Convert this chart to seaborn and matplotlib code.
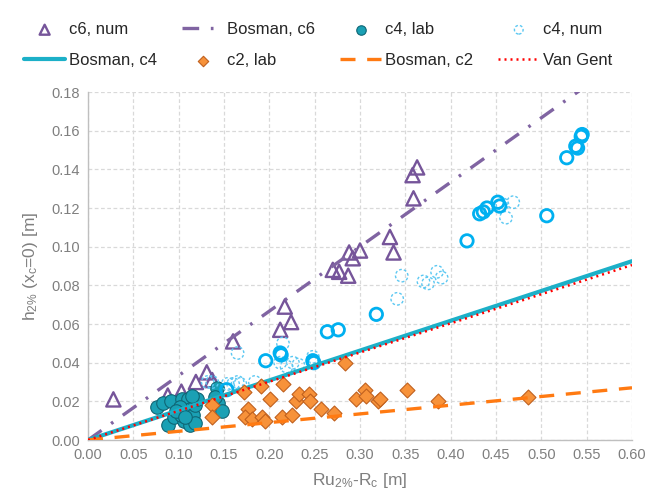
import numpy as np
import pandas as pd
import matplotlib
matplotlib.use("Agg")
import matplotlib.pyplot as plt
import seaborn as sns

# --- measured data -------------------------------------------------------
c6_num_x = [0.028, 0.088, 0.103, 0.119, 0.131, 0.137, 0.160, 0.212, 0.217, 0.224,
            0.270, 0.277, 0.287, 0.288, 0.292, 0.300, 0.333, 0.337, 0.358, 0.359, 0.363]
c6_num_y = [0.021, 0.023, 0.025, 0.030, 0.035, 0.031, 0.051, 0.057, 0.069, 0.061,
            0.088, 0.087, 0.085, 0.097, 0.094, 0.098, 0.105, 0.097, 0.137, 0.125, 0.141]

c4_lab_x = [0.076, 0.083, 0.092, 0.104, 0.088, 0.095, 0.106, 0.110, 0.113, 0.116,
            0.118, 0.112, 0.118, 0.103, 0.101, 0.097, 0.142, 0.143, 0.148, 0.140,
            0.120, 0.115, 0.107]
c4_lab_y = [0.017, 0.019, 0.020, 0.021, 0.008, 0.012, 0.010, 0.021, 0.016, 0.013,
            0.018, 0.008, 0.009, 0.013, 0.017, 0.015, 0.027, 0.019, 0.015, 0.022,
            0.021, 0.023, 0.012]

# c4 numerical runs (dashed outline in the legend)
c4_num_x = [0.132, 0.137, 0.154, 0.160, 0.165, 0.168, 0.184, 0.165, 0.215, 0.212,
            0.219, 0.226, 0.232, 0.248, 0.341, 0.346, 0.370, 0.375, 0.385, 0.390,
            0.457, 0.461, 0.469]
c4_num_y = [0.030, 0.030, 0.029, 0.029, 0.030, 0.029, 0.030, 0.045, 0.050, 0.040,
            0.038, 0.040, 0.039, 0.043, 0.073, 0.085, 0.082, 0.081, 0.087, 0.084,
            0.122, 0.115, 0.123]

# c4 numerical runs, second set (solid outline)
c4_num2_x = [0.153, 0.196, 0.212, 0.213, 0.248, 0.249, 0.264, 0.276, 0.318, 0.418,
             0.432, 0.436, 0.440, 0.452, 0.454, 0.506, 0.528, 0.538, 0.540, 0.544, 0.545]
c4_num2_y = [0.026, 0.041, 0.045, 0.044, 0.041, 0.040, 0.056, 0.057, 0.065, 0.103,
             0.117, 0.118, 0.120, 0.123, 0.121, 0.116, 0.146, 0.152, 0.151, 0.157, 0.158]

c2_lab_x = [0.137, 0.137, 0.172, 0.177, 0.173, 0.181, 0.191, 0.192, 0.195, 0.201,
            0.215, 0.214, 0.225, 0.229, 0.233, 0.244, 0.245, 0.257, 0.271, 0.283,
            0.296, 0.305, 0.307, 0.320, 0.322, 0.352, 0.386, 0.485]
c2_lab_y = [0.018, 0.012, 0.025, 0.016, 0.012, 0.011, 0.028, 0.012, 0.010, 0.021,
            0.029, 0.012, 0.013, 0.020, 0.024, 0.024, 0.020, 0.016, 0.014, 0.040,
            0.021, 0.026, 0.023, 0.020, 0.021, 0.026, 0.020, 0.022]

# design lines, evaluated at the ends of the x range
line_x = [0.0, 0.60]
bosman_c6 = [0.0, 0.200]
bosman_c4 = [0.0, 0.0925]
bosman_c2 = [0.0, 0.027]
van_gent = [0.0, 0.0905]

x_ticks = [round(0.05 * i, 2) for i in range(13)]
y_ticks = [round(0.02 * i, 2) for i in range(10)]

# --- style ---------------------------------------------------------------
sns.set_theme(style="white")
plt.rcParams["font.family"] = ["Liberation Sans", "DejaVu Sans"]
plt.rcParams["mathtext.fontset"] = "custom"
plt.rcParams["mathtext.rm"] = "Liberation Sans"
plt.rcParams["mathtext.it"] = "Liberation Sans"
plt.rcParams["mathtext.default"] = "regular"

grey_txt = "#7F7F7F"
purple = "#76559A"
purple_line = "#8064A2"
teal = "#1AA0B4"
teal_edge = "#0F6675"
sky = "#00B0F0"
sky_light = "#5CC8F2"
orange = "#F7923A"
orange_edge = "#C0601E"
cyan_line = "#1CB0C8"
orange_line = "#FF7A12"

fig = plt.figure(figsize=(6.46, 4.92), dpi=100)
ax = fig.add_axes([88 / 646, 1 - 440 / 492, 544 / 646, 348 / 492])

z = 3
sns.scatterplot(x=c6_num_x, y=c6_num_y, marker="^", s=105, facecolors="none",
                edgecolor=purple, linewidth=1.7, ax=ax, label="c6, num", zorder=z)
sns.lineplot(x=line_x, y=bosman_c6, ax=ax, color=purple_line, lw=2.4,
             label="Bosman, c6", zorder=z + 1)
ax.lines[-1].set_linestyle((0, (5, 3.5, 0.8, 3.5)))
sns.scatterplot(x=c4_lab_x, y=c4_lab_y, marker="o", s=95, color=teal,
                edgecolor=teal_edge, linewidth=0.8, ax=ax, label="c4, lab", zorder=z + 2)
sns.scatterplot(x=c4_num_x, y=c4_num_y, marker="o", s=80, facecolors="none",
                edgecolor=sky_light, linewidth=1.0, linestyle=(0, (2.0, 1.5)),
                ax=ax, label="c4, num", zorder=z + 3)
sns.scatterplot(x=c4_num2_x, y=c4_num2_y, marker="o", s=80, facecolors="none",
                edgecolor=sky, linewidth=2.0, ax=ax, label="_c4 num solid", zorder=z + 3)
sns.lineplot(x=line_x, y=bosman_c4, ax=ax, color=cyan_line, lw=3.0,
             label="Bosman, c4", zorder=z + 4)
sns.scatterplot(x=c2_lab_x, y=c2_lab_y, marker="D", s=58, color=orange,
                edgecolor=orange_edge, linewidth=0.8, ax=ax, label="c2, lab", zorder=z + 5)
sns.lineplot(x=line_x, y=bosman_c2, ax=ax, color=orange_line, lw=2.4,
             label="Bosman, c2", zorder=z + 6)
ax.lines[-1].set_linestyle((0, (4.5, 3.5)))
sns.lineplot(x=line_x, y=van_gent, ax=ax, color="#FF0000", lw=1.8,
             label="Van Gent", zorder=z + 7)
ax.lines[-1].set_linestyle((0, (0.8, 1.6)))

ax.set_xlim(0, 0.60)
ax.set_ylim(0, 0.18)
ax.set_xticks(x_ticks)
ax.set_yticks(y_ticks)
ax.set_xticklabels([f"{v:.2f}" for v in x_ticks])
ax.set_yticklabels([f"{v:.2f}" for v in y_ticks])
ax.tick_params(axis="both", length=0, labelsize=10.5, colors="#7F7F7F", pad=6)
ax.grid(True, color="#D9D9D9", linestyle=(0, (3, 2)), linewidth=0.9)
ax.set_axisbelow(True)
for side in ("top", "right"):
    ax.spines[side].set_visible(False)
for side in ("left", "bottom"):
    ax.spines[side].set_color("#BFBFBF")
    ax.spines[side].set_linewidth(1.0)

ax.set_xlabel(r"Ru$_{2\%}$-R$_c$ [m]", fontsize=12.5, color=grey_txt, labelpad=6)
ax.set_ylabel(r"h$_{2\%}$ (x$_c$=0) [m]", fontsize=12.5, color=grey_txt, labelpad=8)

# legend: two rows of four, filled column by column
handles, labels = ax.get_legend_handles_labels()
if ax.get_legend():
    ax.get_legend().remove()
lookup = dict(zip(labels, handles))
order = ["c6, num", "Bosman, c4", "Bosman, c6", "c2, lab",
         "c4, lab", "Bosman, c2", "c4, num", "Van Gent"]
fig.legend([lookup[k] for k in order], order, loc="center",
           bbox_to_anchor=(318 / 646, 1 - 45 / 492), ncol=4, frameon=False,
           fontsize=12, handlelength=2.5, handletextpad=0.2, columnspacing=1.5,
           labelspacing=0.95, borderpad=0, borderaxespad=0, markerscale=0.7)

fig.savefig("out.png", dpi=100)
